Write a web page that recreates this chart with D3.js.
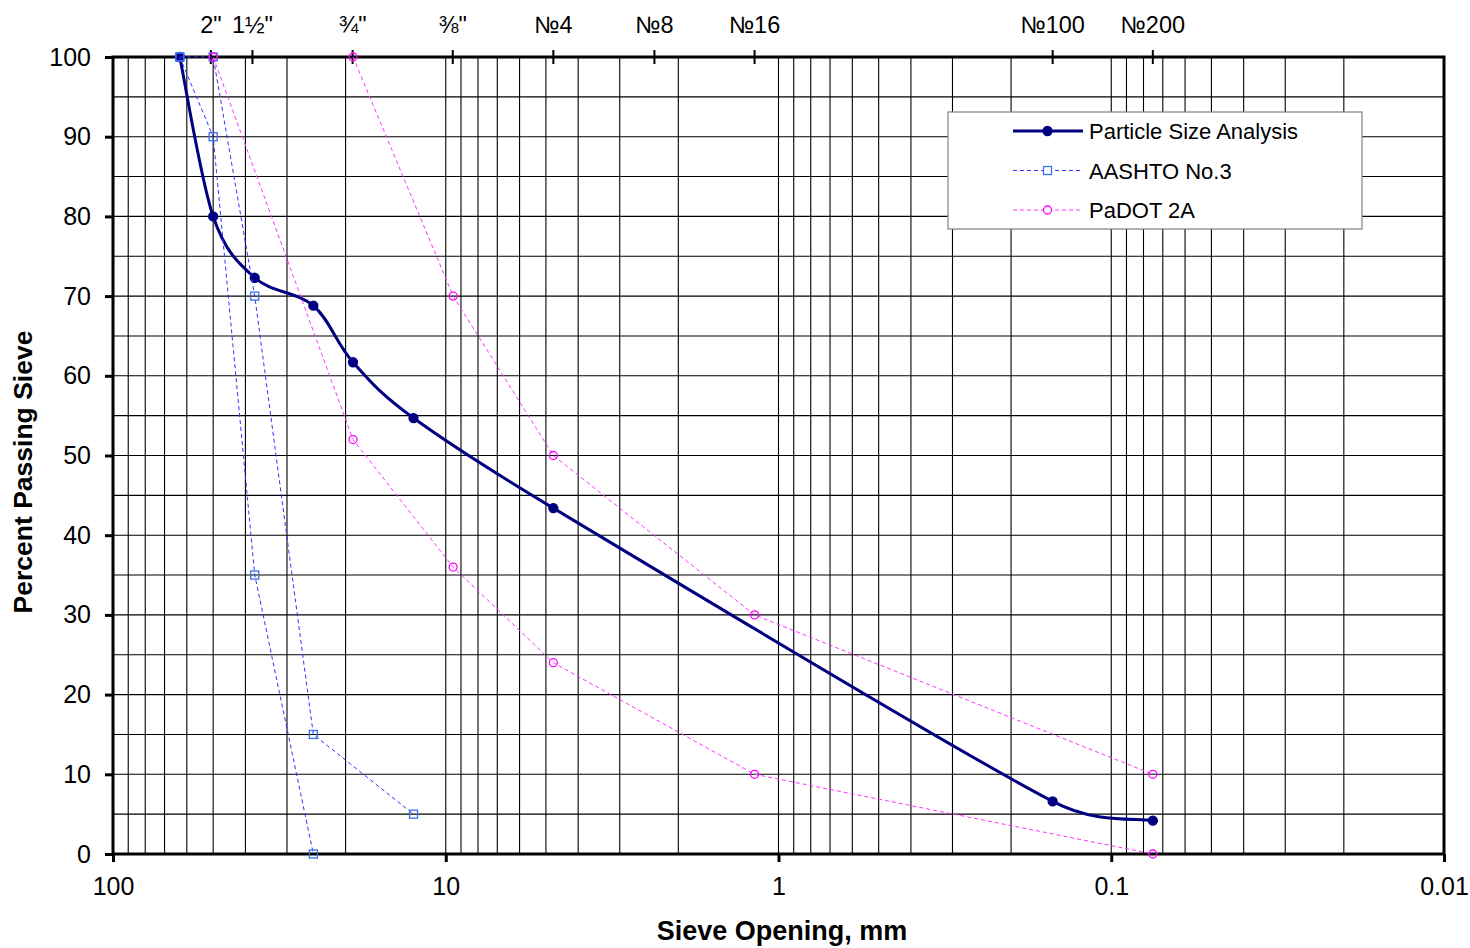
<!DOCTYPE html>
<html>
<head>
<meta charset="utf-8">
<script src="https://cdn.jsdelivr.net/npm/d3@7"></script>
<style>
  body { margin: 0; background: #fff; }
  text { font-family: "Liberation Sans", Arial, sans-serif; fill: #000; }
</style>
</head>
<body>
<script>
// Marges autour de la zone de tracé.
var margin = {top: 57, right: 26, bottom: 94, left: 113};

var width = 1470 - margin.left - margin.right,
    height = 948 - margin.top - margin.bottom;

// Données (ouverture en mm, % passant).
const psaSize = [63, 50, 37.5, 25, 19, 12.5, 4.75, 0.15, 0.075];
const psaPass = [100, 80, 72.3, 68.8, 61.7, 54.7, 43.4, 6.6, 4.2];

const aashtoHiSize = [63, 50, 37.5, 25, 12.5];
const aashtoHiPass = [100, 100, 70, 15, 5];
const aashtoLoSize = [63, 50, 37.5, 25];
const aashtoLoPass = [100, 90, 35, 0];

const padotHiSize = [19, 9.5, 4.75, 1.18, 0.075];
const padotHiPass = [100, 70, 50, 30, 10];
const padotLoSize = [50, 19, 9.5, 4.75, 1.18, 0.075];
const padotLoPass = [100, 52, 36, 24, 10, 0];

// Tamis en haut du graphique.
const sieveSize = [50.8, 38.1, 19.05, 9.525, 4.75, 2.36, 1.18, 0.15, 0.075];
const sieveLabel = ["2\"", "1½\"", "¾\"", "⅜\"", "№4", "№8", "№16", "№100", "№200"];

const xTicks = [100, 10, 1, 0.1, 0.01];
const xTickLabel = ["100", "10", "1", "0.1", "0.01"];
const yTicks = [0, 10, 20, 30, 40, 50, 60, 70, 80, 90, 100];

function zip(a, b) {
    return a.map((v, i) => [v, b[i]]);
}

// Courbe lissée façon tableur : Bézier, bras = min(corde voisine / 6, segment / 2).
function lissage(p) {
    const path = d3.path();
    const n = p.length;
    const dist = (a, b) => Math.hypot(b[0] - a[0], b[1] - a[1]);
    path.moveTo(p[0][0], p[0][1]);
    for (let i = 0; i < n - 1; i++) {
        const p0 = p[Math.max(i - 1, 0)], p1 = p[i], p2 = p[i + 1], p3 = p[Math.min(i + 2, n - 1)];
        const d12 = dist(p1, p2);
        let d02 = dist(p0, p2), d13 = dist(p1, p3);
        let a1 = d02 > 0 ? Math.min(d02 / 6, d12 / 2) / d02 : 0;
        let a2 = d13 > 0 ? Math.min(d13 / 6, d12 / 2) / d13 : 0;
        path.bezierCurveTo(
            p1[0] + (p2[0] - p0[0]) * a1, p1[1] + (p2[1] - p0[1]) * a1,
            p2[0] - (p3[0] - p1[0]) * a2, p2[1] - (p3[1] - p1[1]) * a2,
            p2[0], p2[1]);
    }
    return path.toString();
}

// Tracer une série : ligne puis marqueurs.
function serie(g, pts, x, y, opts) {
    const px = pts.map(d => [x(d[0]), y(d[1])]);
    const line = d3.line();

    g.append("path")
        .attr("d", opts.smooth ? lissage(px) : line(px))
        .attr("fill", "none")
        .attr("stroke", opts.stroke)
        .attr("stroke-width", opts.width)
        .attr("stroke-dasharray", opts.dash || null);

    if (opts.marker === "square") {
        g.selectAll(null).data(px).enter().append("rect")
            .attr("x", d => d[0] - 4)
            .attr("y", d => d[1] - 4)
            .attr("width", 8)
            .attr("height", 8)
            .attr("fill", "none")
            .attr("stroke", opts.markerStroke)
            .attr("stroke-width", 1.3);
    } else {
        g.selectAll(null).data(px).enter().append("circle")
            .attr("cx", d => d[0])
            .attr("cy", d => d[1])
            .attr("r", opts.r)
            .attr("fill", opts.fill)
            .attr("stroke", opts.markerStroke)
            .attr("stroke-width", 1.3);
    }
}

function myfct() {
    const svg = d3.select("body")
        .append("svg")
        .attr("width", width + margin.left + margin.right)
        .attr("height", height + margin.top + margin.bottom)
        .append("g")
        .attr("transform", `translate(${margin.left},${margin.top})`);

    // Échelles : log inversée pour x, linéaire pour y.
    const x = d3.scaleLog().domain([100, 0.01]).range([0, width]);
    const y = d3.scaleLinear().domain([0, 100]).range([height, 0]);

    // Quadrillage vertical (1 à 9 par décade).
    const vgrid = [];
    [0.01, 0.1, 1, 10].forEach(dec => {
        for (let k = 1; k <= 9; k++) vgrid.push(dec * k);
    });
    svg.append("g").selectAll("line").data(vgrid.filter(v => v > 0.01 && v < 100)).enter()
        .append("line")
        .attr("x1", d => x(d)).attr("x2", d => x(d))
        .attr("y1", 0).attr("y2", height)
        .attr("stroke", "#000").attr("stroke-width", 1.1);

    // Quadrillage horizontal tous les 5 %.
    svg.append("g").selectAll("line").data(d3.range(5, 100, 5)).enter()
        .append("line")
        .attr("x1", 0).attr("x2", width)
        .attr("y1", d => y(d)).attr("y2", d => y(d))
        .attr("stroke", "#000").attr("stroke-width", 1.1);

    // Cadre épais.
    svg.append("rect")
        .attr("width", width).attr("height", height)
        .attr("fill", "none").attr("stroke", "#000").attr("stroke-width", 3);

    // Axe y.
    const yAxis = svg.append("g")
        .call(d3.axisLeft(y).tickValues(yTicks).tickSize(8).tickPadding(14));
    yAxis.select(".domain").remove();
    yAxis.selectAll(".tick line").attr("stroke-width", 3);
    yAxis.selectAll("text").style("font-size", "25px").attr("fill", "#000");

    // Axe x du bas.
    const xAxis = svg.append("g")
        .attr("transform", `translate(0, ${height})`)
        .call(d3.axisBottom(x).tickValues(xTicks).tickFormat((d, i) => xTickLabel[i])
            .tickSize(8).tickPadding(15));
    xAxis.select(".domain").remove();
    xAxis.selectAll(".tick line").attr("stroke-width", 3);
    xAxis.selectAll("text").style("font-size", "25px").attr("fill", "#000");

    // Axe du haut : tamis.
    const top = svg.append("g");
    top.selectAll("line").data(sieveSize).enter().append("line")
        .attr("x1", d => x(d)).attr("x2", d => x(d))
        .attr("y1", -7).attr("y2", 7)
        .attr("stroke", "#000").attr("stroke-width", 2);
    top.selectAll("text").data(sieveSize).enter().append("text")
        .attr("x", d => x(d))
        .attr("y", -24)
        .attr("text-anchor", "middle")
        .style("font-size", "23.5px")
        .text((d, i) => sieveLabel[i]);

    // Séries.
    serie(svg, zip(psaSize, psaPass), x, y, {
        stroke: "#000080", width: 3, smooth: true,
        r: 4.5, fill: "#000080", markerStroke: "#000080"
    });
    [zip(aashtoHiSize, aashtoHiPass), zip(aashtoLoSize, aashtoLoPass)].forEach(pts =>
        serie(svg, pts, x, y, {
            stroke: "#3333ff", width: 1, dash: "4,3",
            marker: "square", markerStroke: "#3a6df0"
        }));
    [zip(padotHiSize, padotHiPass), zip(padotLoSize, padotLoPass)].forEach(pts =>
        serie(svg, pts, x, y, {
            stroke: "#ff33ff", width: 1, dash: "4,3",
            r: 4, fill: "none", markerStroke: "#ff00ff"
        }));

    // Légende.
    const lg = svg.append("g").attr("transform", `translate(${948 - margin.left},${112 - margin.top})`);
    lg.append("rect")
        .attr("width", 414).attr("height", 117)
        .attr("fill", "#fff").attr("stroke", "#808080").attr("stroke-width", 1.2);

    const items = [
        {label: "Particle Size Analysis", stroke: "#000080", w: 3, dash: null, m: "dot"},
        {label: "AASHTO No.3", stroke: "#3333ff", w: 1, dash: "4,3", m: "square"},
        {label: "PaDOT 2A", stroke: "#ff33ff", w: 1, dash: "4,3", m: "circle"}
    ];
    items.forEach((it, i) => {
        const cy = 19 + i * 39.5;
        lg.append("line")
            .attr("x1", 65).attr("x2", 135)
            .attr("y1", cy).attr("y2", cy)
            .attr("stroke", it.stroke).attr("stroke-width", it.w)
            .attr("stroke-dasharray", it.dash);
        if (it.m === "square") {
            lg.append("rect")
                .attr("x", 95.5).attr("y", cy - 4).attr("width", 8).attr("height", 8)
                .attr("fill", "#fff").attr("stroke", "#3a6df0").attr("stroke-width", 1.3);
        } else {
            lg.append("circle")
                .attr("cx", 99.5).attr("cy", cy)
                .attr("r", it.m === "dot" ? 4.5 : 4)
                .attr("fill", it.m === "dot" ? "#000080" : "#fff")
                .attr("stroke", it.m === "dot" ? "#000080" : "#ff00ff")
                .attr("stroke-width", 1.3);
        }
        lg.append("text")
            .attr("x", 141).attr("y", cy + 8)
            .style("font-size", "22px")
            .text(it.label);
    });

    // Titres des axes.
    svg.append("text")
        .attr("transform", `translate(${32 - margin.left},${472 - margin.top}) rotate(-90)`)
        .attr("text-anchor", "middle")
        .style("font-size", "26.5px").style("font-weight", "bold")
        .text("Percent Passing Sieve");

    svg.append("text")
        .attr("x", 782 - margin.left)
        .attr("y", 940 - margin.top)
        .attr("text-anchor", "middle")
        .style("font-size", "27px").style("font-weight", "bold")
        .text("Sieve Opening, mm");
}

d3.select(window).on("load", myfct);
</script>
</body>
</html>
